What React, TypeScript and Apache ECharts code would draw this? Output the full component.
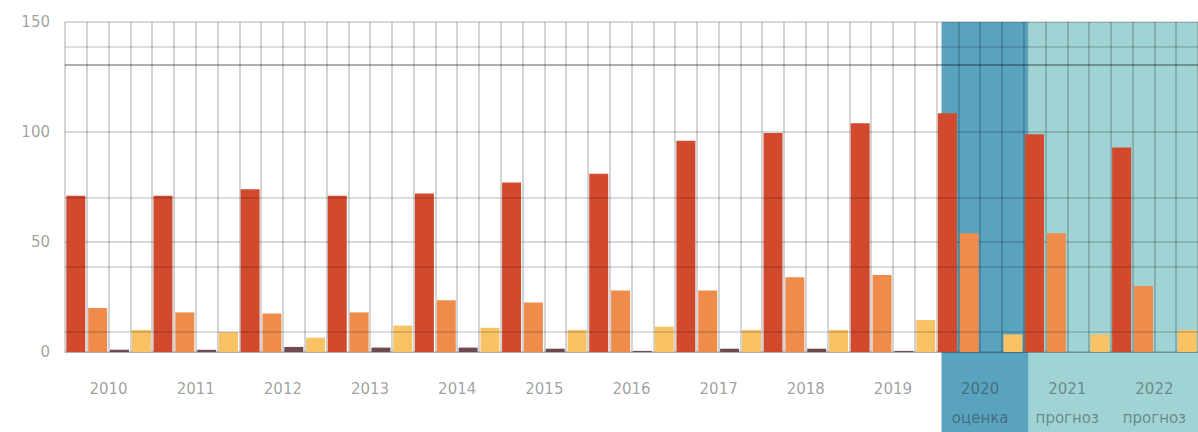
import React, { useEffect, useRef } from "react";
import * as echarts from "echarts";

const categories = ["2010", "2011", "2012", "2013", "2014", "2015", "2016", "2017", "2018", "2019", "2020\nоценка", "2021\nпрогноз", "2022\nпрогноз"];
const redValues = [71, 71, 74, 71, 72, 77, 81, 96, 99.5, 104, 108.5, 99, 93];
const orangeValues = [20, 18, 17.5, 18, 23.5, 22.5, 28, 28, 34, 35, 54, 54, 30];
const brownValues = [1, 1, 2.3, 2, 2, 1.5, 0.5, 1.5, 1.5, 0.5, 0, 0, 0];
const yellowValues = [10, 9, 6.5, 12, 11, 10, 11.5, 10, 10, 14.5, 8, 8, 10];
const yTicks = [0, 50, 100, 150];
const refLines = [9, 38.6, 70, 138.6];
const darkRefLine = 130.5;
const slotLabels = categories.flatMap((c, i) => [0, 1, 2, 3].map((k) => `${i}-${k}`));

export default function App() {
  const ref = useRef<HTMLDivElement>(null);
  useEffect(() => {
    if (!ref.current) return;
    const chart = echarts.init(ref.current, undefined, { renderer: "svg" });
    const barBase = { type: "bar" as const, barWidth: 19, barGap: "15%", xAxisIndex: 0, yAxisIndex: 0 };
    chart.setOption({
      animation: false,
      grid: { left: 65, right: -4, top: 22, bottom: 80, containLabel: false },
      xAxis: [
        {
          type: "category",
          data: categories,
          axisLine: { show: true, lineStyle: { color: "rgba(0,0,0,0.2)" } },
          axisTick: { show: false },
          splitLine: { show: false },
          axisLabel: {
            margin: 22,
            fontSize: 15,
            lineHeight: 29,
            color: "rgba(40,40,40,0.45)",
            fontFamily: "DejaVu Sans",
            verticalAlign: "top",
          },
        },
        {
          type: "category",
          data: slotLabels,
          position: "bottom",
          axisLine: { show: false },
          axisTick: { show: false, interval: 0 },
          axisLabel: { show: false, interval: 0 },
          splitLine: { show: true, interval: 0, lineStyle: { color: "rgba(0,0,0,0.17)", width: 2 } },
        },
      ],
      yAxis: {
        type: "value",
        min: yTicks[0],
        max: yTicks[yTicks.length - 1],
        interval: 50,
        axisLine: { show: false },
        axisTick: { show: false },
        axisLabel: { margin: 15, fontSize: 15, color: "rgba(40,40,40,0.45)", fontFamily: "DejaVu Sans" },
        splitLine: { show: true, lineStyle: { color: "rgba(0,0,0,0.2)", width: 1.5 } },
      },
      series: [
        {
          ...barBase,
          name: "red",
          data: redValues,
          itemStyle: { color: "#d24a2e" },
          markLine: {
            silent: true,
            symbol: "none",
            label: { show: false },
            data: [
              ...refLines.map((v) => ({ yAxis: v, lineStyle: { color: "rgba(0,0,0,0.18)", width: 1.5, type: "solid" } })),
              { yAxis: darkRefLine, lineStyle: { color: "rgba(0,0,0,0.42)", width: 1.5, type: "solid" } },
            ],
          },
        },
        { ...barBase, name: "orange", data: orangeValues, itemStyle: { color: "#ef8c4c" } },
        { ...barBase, name: "brown", data: brownValues, itemStyle: { color: "#6e4a50" } },
        { ...barBase, name: "yellow", data: yellowValues, itemStyle: { color: "#f9c264" } },
      ],
    });

    const c10 = chart.convertToPixel({ xAxisIndex: 0 }, 10) as number;
    const c11 = chart.convertToPixel({ xAxisIndex: 0 }, 11) as number;
    const c12 = chart.convertToPixel({ xAxisIndex: 0 }, 12) as number;
    const bw = c11 - c10;
    const top = chart.convertToPixel({ yAxisIndex: 0 }, 150) as number;
    const h = chart.getHeight();
    chart.setOption({
      graphic: [
        {
          type: "rect",
          z: -10,
          silent: true,
          shape: { x: c10 - bw / 2 + 5, y: top, width: bw, height: h - top },
          style: { fill: "#5aa3bf" },
        },
        {
          type: "rect",
          z: -10,
          silent: true,
          shape: { x: c11 - bw / 2 + 5, y: top, width: c12 + bw / 2 - (c11 - bw / 2) + 10, height: h - top },
          style: { fill: "#a0d3d3" },
        },
      ],
    });
    return () => chart.dispose();
  }, []);
  return (
    <div
      ref={ref}
      style={{ position: "fixed", left: 0, top: 0, width: 1198, height: 432, background: "#fff" }}
    />
  );
}
